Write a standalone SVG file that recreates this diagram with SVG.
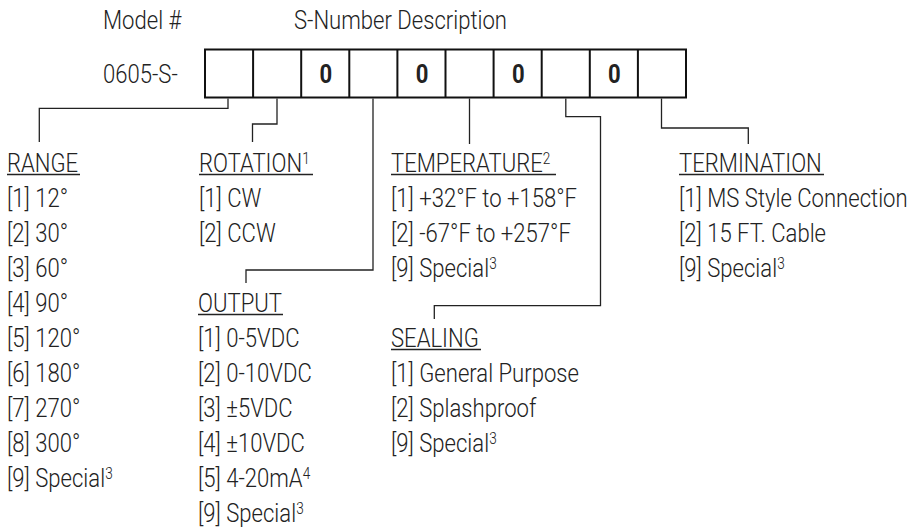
<svg xmlns="http://www.w3.org/2000/svg" width="915" height="529" viewBox="0 0 915 529">
<style>
text{font-family:Roboto,"Liberation Sans",sans-serif;font-size:26px;font-weight:300;fill:#222}
.b{font-weight:700}
.sup{font-size:16px}
.ul{stroke:#222;stroke-width:1.6}
.box{fill:none;stroke:#111;stroke-width:2}
.c{fill:none;stroke:#222;stroke-width:1.3}
</style>
<rect width="915" height="529" fill="#fff"/>
<g id="header">
<text transform="translate(103,29) scale(.85,1)">Model #</text>
<text transform="translate(294,29) scale(.85,1)">S-Number Description</text>
<text transform="translate(103,83) scale(.85,1)">0605-S-</text>
</g>
<g id="code-boxes">
<rect class="box" x="205" y="49.5" width="481" height="48"/>
<path class="box" d="M253.1 49.5V97.5M301.2 49.5V97.5M349.3 49.5V97.5M397.4 49.5V97.5M445.5 49.5V97.5M493.6 49.5V97.5M541.7 49.5V97.5M589.8 49.5V97.5M637.9 49.5V97.5"/>
<text class="b" transform="translate(319.5,83) scale(.85,1)">0</text>
<text class="b" transform="translate(415.7,83) scale(.85,1)">0</text>
<text class="b" transform="translate(511.9,83) scale(.85,1)">0</text>
<text class="b" transform="translate(608.1,83) scale(.85,1)">0</text>
</g>
<g id="connectors">
<path class="c" d="M228 98.5V108.3H39.3V142"/>
<path class="c" d="M277 98.5V124H252.5V142"/>
<path class="c" d="M373 98.5V270H246V283"/>
<path class="c" d="M469.5 98.5V144"/>
<path class="c" d="M565.8 98.5V116.7H600.5V305.7H434.3V319"/>
<path class="c" d="M661.5 98.5V128H748.3V144"/>
</g>
<g id="range">
<text transform="translate(7,172) scale(.85,1)">RANGE</text>
<line class="ul" x1="7" y1="174.5" x2="80" y2="174.5"/>
<text transform="translate(7,207) scale(.85,1)">[1] 12°</text>
<text transform="translate(7,242) scale(.85,1)">[2] 30°</text>
<text transform="translate(7,277) scale(.85,1)">[3] 60°</text>
<text transform="translate(7,312) scale(.85,1)">[4] 90°</text>
<text transform="translate(7,347) scale(.85,1)">[5] 120°</text>
<text transform="translate(7,382) scale(.85,1)">[6] 180°</text>
<text transform="translate(7,417) scale(.85,1)">[7] 270°</text>
<text transform="translate(7,452) scale(.85,1)">[8] 300°</text>
<text transform="translate(7,487) scale(.85,1)">[9] Special<tspan class="sup" dy="-8">3</tspan></text>
</g>
<g id="rotation">
<text transform="translate(199,172) scale(.85,1)">ROTATION<tspan class="sup" dy="-8">1</tspan></text>
<line class="ul" x1="199" y1="174.5" x2="313" y2="174.5"/>
<text transform="translate(199,207) scale(.85,1)">[1] CW</text>
<text transform="translate(199,242) scale(.85,1)">[2] CCW</text>
</g>
<g id="output">
<text transform="translate(198,312) scale(.85,1)">OUTPUT</text>
<line class="ul" x1="198" y1="314.5" x2="283" y2="314.5"/>
<text transform="translate(198,347) scale(.85,1)">[1] 0-5VDC</text>
<text transform="translate(198,382) scale(.85,1)">[2] 0-10VDC</text>
<text transform="translate(198,417) scale(.85,1)">[3] ±5VDC</text>
<text transform="translate(198,452) scale(.85,1)">[4] ±10VDC</text>
<text transform="translate(198,487) scale(.85,1)">[5] 4-20mA<tspan class="sup" dy="-8">4</tspan></text>
<text transform="translate(198,522) scale(.85,1)">[9] Special<tspan class="sup" dy="-8">3</tspan></text>
</g>
<g id="temperature">
<text transform="translate(391,172) scale(.85,1)">TEMPERATURE<tspan class="sup" dy="-8">2</tspan></text>
<line class="ul" x1="391" y1="174.5" x2="556" y2="174.5"/>
<text transform="translate(391,207) scale(.85,1)">[1] +32°F to +158°F</text>
<text transform="translate(391,242) scale(.85,1)">[2] -67°F to +257°F</text>
<text transform="translate(391,277) scale(.85,1)">[9] Special<tspan class="sup" dy="-8">3</tspan></text>
</g>
<g id="sealing">
<text transform="translate(391,347) scale(.85,1)">SEALING</text>
<line class="ul" x1="391" y1="349.5" x2="481" y2="349.5"/>
<text transform="translate(391,382) scale(.85,1)">[1] General Purpose</text>
<text transform="translate(391,417) scale(.85,1)">[2] Splashproof</text>
<text transform="translate(391,452) scale(.85,1)">[9] Special<tspan class="sup" dy="-8">3</tspan></text>
</g>
<g id="termination">
<text transform="translate(679,172) scale(.85,1)">TERMINATION</text>
<line class="ul" x1="679" y1="174.5" x2="824" y2="174.5"/>
<text transform="translate(679,207) scale(.85,1)">[1] MS Style Connection</text>
<text transform="translate(679,242) scale(.85,1)">[2] 15 FT. Cable</text>
<text transform="translate(679,277) scale(.85,1)">[9] Special<tspan class="sup" dy="-8">3</tspan></text>
</g>
</svg>
